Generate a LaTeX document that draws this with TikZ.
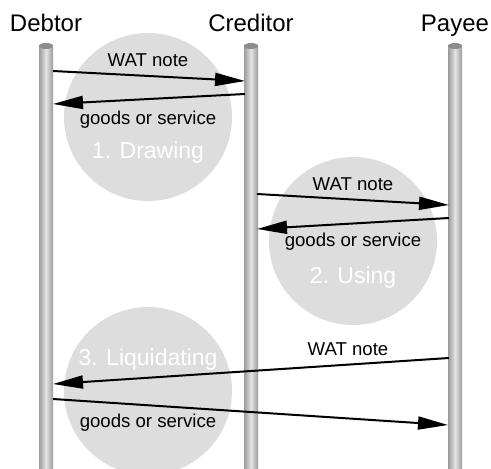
\documentclass[tikz,border=0pt]{standalone}
\usepackage{fontspec}
\setmainfont{Liberation Sans}
\usepackage{tikz}
\usetikzlibrary{arrows.meta, positioning, calc}
\definecolor{PhaseGray}{HTML}{DDDDDD}
\definecolor{PoleDark}{HTML}{9A9A9A}
\definecolor{PoleLight}{HTML}{E4E4E4}
\definecolor{CapGray}{HTML}{8C8C8C}

\tikzset{
  party/.style={anchor=base, font=\fontsize{12}{14}\selectfont},
  msg/.style={anchor=base, font=\fontsize{9.3}{11}\selectfont},
  phase/.style={anchor=base, text=white, font=\fontsize{11.5}{13}\selectfont},
  flow/.style={line width=1pt, -{Triangle[length=15pt, width=6.5pt]}},
  pole/.style={left color=PoleDark, right color=PoleDark, middle color=PoleLight, draw=none}
}

\begin{document}
\begin{tikzpicture}[x=0.5pt, y=-0.5pt]
                    \useasboundingbox (0,0) rectangle (491,469);
                    
                    % phase discs
                    \fill[PhaseGray] (148,117) circle (42pt);
                    \fill[PhaseGray] (353,241) circle (42pt);
                    \fill[PhaseGray] (148,391) circle (42pt);
                    
                    % lifelines
                    \foreach \x/\who/\txt in {46/debtor/Debtor, 251/creditor/Creditor, 455/payee/Payee}{
                        \shade[pole] (\x-7,46) rectangle (\x+7,469);
                        \fill[CapGray] (\x,46) ellipse (3.5pt and 1.5pt);
                        \node[party] (\who) at (\x,32) {\txt};
                    }
                    
                    % end points on the lifelines
                    \coordinate (d1) at (53,71);   \coordinate (c1) at (245,81);
                    \coordinate (c2) at (245,94);  \coordinate (d2) at (53,104);
                    \coordinate (c3) at (257,194); \coordinate (p3) at (449,205);
                    \coordinate (p4) at (449,218); \coordinate (c4) at (257,229);
                    \coordinate (p5) at (449,358); \coordinate (d5) at (53,384);
                    \coordinate (d6) at (53,399);  \coordinate (p6) at (448,425);
                    
                    % 1. drawing
                    \node[msg] (note1) at (148,67) {WAT note};
                    \node[msg] (goods1) at (148,125) {goods or service};
                    \node[phase] (drawing) at (148,159) {1. Drawing};
                    \draw[flow] (d1) -- (c1);
                    \draw[flow] (c2) -- (d2);
                    
                    % 2. using
                    \node[msg] (note2) at (353,191) {WAT note};
                    \node[msg] (goods2) at (353,247) {goods or service};
                    \node[phase] (using) at (353,284) {2. Using};
                    \draw[flow] (c3) -- (p3);
                    \draw[flow] (p4) -- (c4);
                    
                    % 3. liquidating
                    \node[phase] (liquidating) at (148,365) {3. Liquidating};
                    \node[msg] (note3) at (348,355) {WAT note};
                    \node[msg] (goods3) at (148,427) {goods or service};
                    \draw[flow] (p5) -- (d5);
                    \draw[flow] (d6) -- (p6);
                \end{tikzpicture}
\end{document}
